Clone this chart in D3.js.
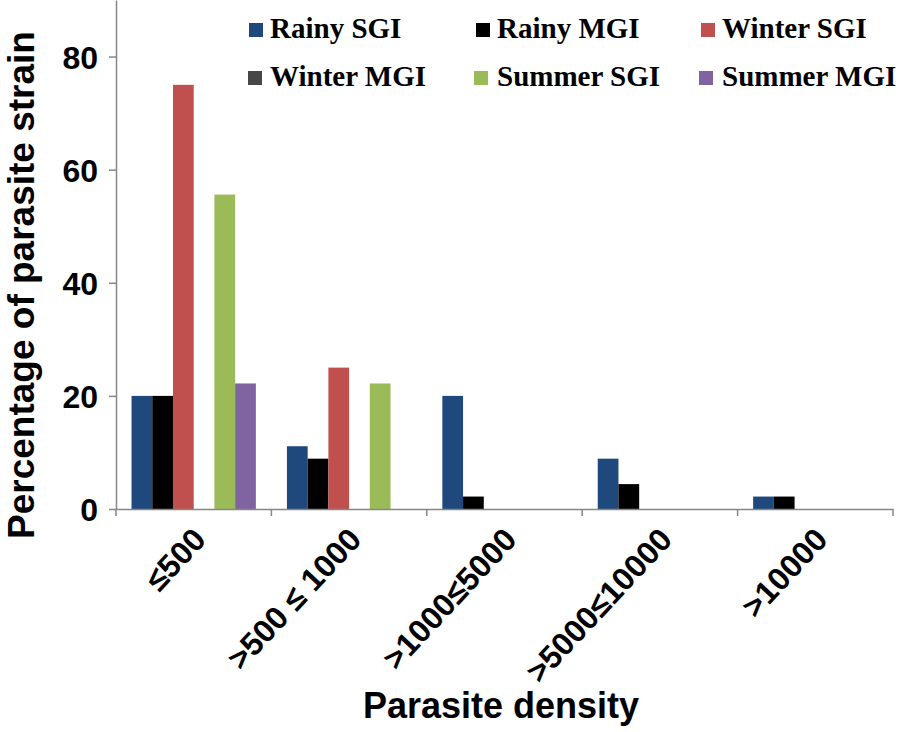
<!DOCTYPE html>
<html>
<head>
<meta charset="utf-8">
<script src="https://cdn.jsdelivr.net/npm/d3@7"></script>
<style>
  html, body { margin: 0; padding: 0; background: #fff; }
  svg { display: block; }
</style>
</head>
<body>
<svg id="chart" width="898" height="732"></svg>
<script>
// ---- Data ----
const categories = ["≤500", ">500 ≤ 1000", ">1000≤5000", ">5000≤10000", ">10000"];
const seriesNames = ["Rainy SGI", "Rainy MGI", "Winter SGI", "Winter MGI", "Summer SGI", "Summer MGI"];
const rainySGI  = [20, 11.1, 20, 8.9, 2.2];
const rainyMGI  = [20, 8.9, 2.2, 4.4, 2.2];
const winterSGI = [75, 25, 0, 0, 0];
const winterMGI = [0, 0, 0, 0, 0];
const summerSGI = [55.6, 22.2, 0, 0, 0];
const summerMGI = [22.2, 0, 0, 0, 0];
const yTicks = [0, 20, 40, 60, 80];
const seriesColors = ["#1F497D", "#000000", "#C0504D", "#474747", "#9BBB59", "#8064A2"];

const seriesValues = [rainySGI, rainyMGI, winterSGI, winterMGI, summerSGI, summerMGI];

// ---- Layout ----
const svg = d3.select("#chart");
const plotLeft = 116, plotRight = 893, plotTop = 0, plotBottom = 509;
const axisColor = "#868686";

const x0 = d3.scaleBand().domain(categories).range([plotLeft, plotRight]).paddingInner(0.2).paddingOuter(0.1);
const x1 = d3.scaleBand().domain(seriesNames).range([0, x0.bandwidth()]);
const y = d3.scaleLinear().domain([0, 90]).range([plotBottom, plotTop]);
const color = d3.scaleOrdinal().domain(seriesNames).range(seriesColors);

// bars
const rows = [];
categories.forEach((c, i) => {
  seriesNames.forEach((s, j) => rows.push({ cat: c, series: s, value: seriesValues[j][i] }));
});
svg.append("g").selectAll("rect").data(rows).join("rect")
  .attr("x", d => x0(d.cat) + x1(d.series))
  .attr("y", d => y(d.value))
  .attr("width", x1.bandwidth())
  .attr("height", d => y(0) - y(d.value))
  .attr("fill", d => color(d.series));

// y axis
const yAxis = svg.append("g").attr("transform", `translate(${plotLeft},0)`)
  .call(d3.axisLeft(y).tickValues(yTicks).tickSize(7).tickPadding(11).tickSizeOuter(0));
yAxis.select(".domain").attr("stroke", axisColor).attr("stroke-width", 1.5);
yAxis.selectAll(".tick line").attr("stroke", axisColor).attr("stroke-width", 1.5);
yAxis.selectAll(".tick text")
  .attr("font-family", "Liberation Sans, Arial, sans-serif")
  .attr("font-weight", "bold").attr("font-size", 32).attr("fill", "#000")
  .attr("dy", "0.36em");

// x axis line + boundary ticks
const xAxis = svg.append("g").attr("transform", `translate(0,${plotBottom})`)
  .call(d3.axisBottom(x0).tickSize(0).tickFormat(""));
xAxis.select(".domain").attr("stroke", axisColor).attr("stroke-width", 1.5);
const boundaries = d3.range(categories.length + 1).map(i => x0.range()[0] + i * x0.step());
xAxis.selectAll(".bound").data(boundaries).join("line")
  .attr("class", "bound")
  .attr("x1", d => d).attr("x2", d => d)
  .attr("y1", 0).attr("y2", 7)
  .attr("stroke", axisColor).attr("stroke-width", 1.5);

// rotated category labels
svg.append("g").selectAll("text").data(categories).join("text")
  .attr("transform", d => `translate(${x0(d) + x0.bandwidth() / 2 + 14},${plotBottom + 32}) rotate(-47)`)
  .attr("text-anchor", "end")
  .attr("font-family", "Liberation Sans, Arial, sans-serif")
  .attr("font-weight", "bold").attr("font-size", 32)
  .text(d => d);

// axis titles
svg.append("text")
  .attr("x", 501).attr("y", 718)
  .attr("text-anchor", "middle")
  .attr("font-family", "Liberation Sans, Arial, sans-serif")
  .attr("font-weight", "bold").attr("font-size", 36)
  .text("Parasite density");

svg.append("text")
  .attr("transform", "translate(34,285) rotate(-90)")
  .attr("text-anchor", "middle")
  .attr("font-family", "Liberation Sans, Arial, sans-serif")
  .attr("font-weight", "bold").attr("font-size", 37)
  .text("Percentage of parasite strain");

// legend
const legendPos = [
  { sx: 249, tx: 270, by: 38 }, { sx: 476, tx: 497, by: 38 }, { sx: 701, tx: 722, by: 38 },
  { sx: 248, tx: 270, by: 86 }, { sx: 474, tx: 497, by: 86 }, { sx: 699, tx: 722, by: 86 }
];
const legend = svg.append("g").selectAll("g").data(seriesNames).join("g");
legend.append("rect")
  .attr("x", (d, i) => legendPos[i].sx)
  .attr("y", (d, i) => legendPos[i].by - 15)
  .attr("width", 14).attr("height", 14)
  .attr("fill", d => color(d));
legend.append("text")
  .attr("x", (d, i) => legendPos[i].tx)
  .attr("y", (d, i) => legendPos[i].by)
  .attr("font-family", "Liberation Serif, Times New Roman, serif")
  .attr("font-weight", "bold").attr("font-size", 29)
  .text(d => d);
</script>
</body>
</html>
